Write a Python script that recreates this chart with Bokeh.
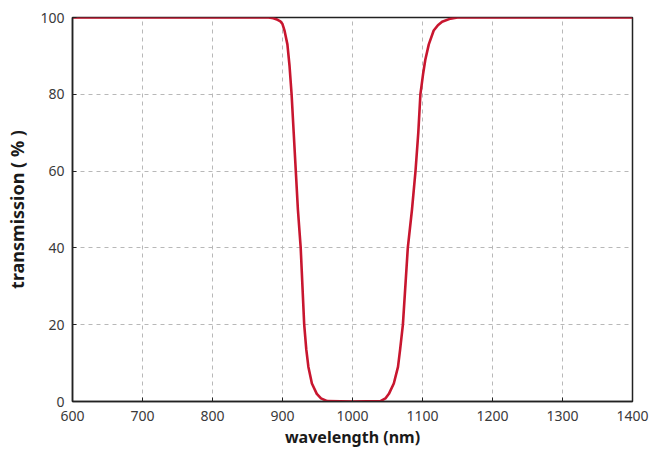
from bokeh.plotting import figure
from bokeh.models import Range1d, FixedTicker
from bokeh.embed import file_html
from bokeh.resources import INLINE

wavelength = [600, 880, 887, 893, 897, 900, 903, 907, 910, 913, 916, 919, 922, 926, 931, 934,
              937, 942, 949, 955, 964, 1000, 1040, 1047, 1052, 1059, 1065, 1068, 1072, 1079,
              1085, 1090, 1094, 1097, 1101, 1104, 1109, 1116, 1122, 1128, 1140, 1150, 1400]
transmission = [100, 100, 99.8, 99.4, 99.0, 98.3, 96.5, 93, 87.5, 80, 70, 60, 50, 40, 20, 13.5,
                9, 4.7, 2, 0.8, 0.1, 0, 0.1, 0.8, 2, 4.7, 9, 13.5, 20, 40,
                50, 60, 70, 80, 85.5, 89, 93, 96.6, 98, 98.9, 99.7, 100, 100]
x_ticks = [600, 700, 800, 900, 1000, 1100, 1200, 1300, 1400]
y_ticks = [0, 20, 40, 60, 80, 100]

p = figure(width=652, height=459, output_backend="svg", toolbar_location=None,
           x_range=Range1d(600, 1400), y_range=Range1d(0, 100),
           min_border_left=72, min_border_right=20, min_border_top=17, min_border_bottom=58)
p.background_fill_color = "white"
p.border_fill_color = "white"
p.outline_line_color = "#222222"
p.outline_line_width = 1.5

p.line(wavelength, transmission, line_color="#C8162F", line_width=2.6, line_join="round")

font = "Noto Sans"
for ax in (p.xaxis[0], p.yaxis[0]):
    ax.axis_line_color = "#222222"
    ax.axis_line_width = 1.5
    ax.major_tick_in = 4
    ax.major_tick_out = 0
    ax.minor_tick_line_color = None
    ax.major_tick_line_color = "#222222"
    ax.major_label_text_font = font
    ax.major_label_text_font_size = "14px"
    ax.major_label_text_color = "#3a3a3a"
    ax.axis_label_text_font = font
    ax.axis_label_text_font_style = "bold"
    ax.axis_label_text_color = "#1a1a1a"

p.xaxis[0].ticker = FixedTicker(ticks=x_ticks)
p.yaxis[0].ticker = FixedTicker(ticks=y_ticks)
p.xaxis[0].axis_label = "wavelength (nm)"
p.yaxis[0].axis_label = "transmission ( % )"
p.xaxis[0].axis_label_text_font_size = "16px"
p.yaxis[0].axis_label_text_font_size = "18px"
p.xaxis[0].major_label_standoff = 9
p.xaxis[0].axis_label_standoff = 2
p.yaxis[0].major_label_standoff = 8
p.yaxis[0].axis_label_standoff = 8

p.xgrid.ticker = FixedTicker(ticks=x_ticks)
p.ygrid.ticker = FixedTicker(ticks=y_ticks)
for g in (p.xgrid[0], p.ygrid[0]):
    g.grid_line_color = "#b8b8b8"
    g.grid_line_dash = "4 4"
    g.grid_line_width = 1

open("out.html", "w").write(file_html(p, INLINE))
